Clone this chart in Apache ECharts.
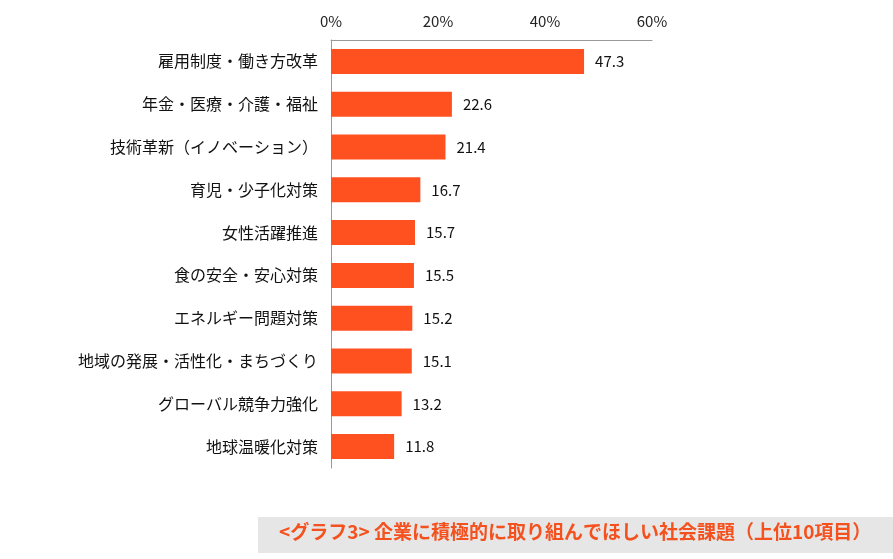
<!DOCTYPE html>
<html>
<head>
<meta charset="utf-8">
<script src="https://cdn.jsdelivr.net/npm/echarts@6/dist/echarts.min.js"></script>
<style>
  html, body { margin: 0; padding: 0; background: #fff; }
</style>
</head>
<body>
<div id="chart" style="width:893px;height:559px;"></div>
<script>
const categories = [
    '雇用制度・働き方改革',
    '年金・医療・介護・福祉',
    '技術革新（イノベーション）',
    '育児・少子化対策',
    '女性活躍推進',
    '食の安全・安心対策',
    'エネルギー問題対策',
    '地域の発展・活性化・まちづくり',
    'グローバル競争力強化',
    '地球温暖化対策'
];
const values = [47.3, 22.6, 21.4, 16.7, 15.7, 15.5, 15.2, 15.1, 13.2, 11.8];
const tickLabels = ['0%', '20%', '40%', '60%'];
const caption = '<グラフ3> 企業に積極的に取り組んでほしい社会課題（上位10項目）';

const chart = echarts.init(document.getElementById('chart'));

const option = {
    backgroundColor: '#fff',
    animation: false,
    textStyle: {
        fontFamily: '"Noto Sans CJK JP", sans-serif'
    },
    grid: {
        left: 331,
        right: 241,
        top: 40,
        height: 428
    },
    xAxis: {
        type: 'value',
        position: 'top',
        min: 0,
        max: 60,
        interval: 20,
        axisLine: { show: true, lineStyle: { color: '#999', width: 1 } },
        axisTick: { show: false },
        splitLine: { show: false },
        axisLabel: {
            color: '#222',
            fontSize: 15,
            margin: 11,
            formatter: (v) => tickLabels[v / 20]
        }
    },
    yAxis: {
        type: 'category',
        inverse: true,
        data: categories,
        axisLine: { show: true, lineStyle: { color: '#999', width: 1 } },
        axisTick: { show: false },
        axisLabel: {
            color: '#111',
            fontSize: 16,
            margin: 13
        }
    },
    series: [{
        type: 'bar',
        data: values,
        barWidth: 25,
        itemStyle: { color: '#FF5020' },
        label: {
            show: true,
            position: 'right',
            distance: 11,
            color: '#111',
            fontSize: 15,
            formatter: (p) => p.value.toFixed(1)
        }
    }],
    graphic: [{
        type: 'rect',
        left: 258,
        top: 517,
        shape: { width: 635, height: 36 },
        style: { fill: '#E6E6E6' }
    }, {
        type: 'text',
        left: 279,
        top: 522,
        style: {
            text: caption,
            fill: '#F4511E',
            font: 'bold 19px "Noto Sans CJK JP", sans-serif'
        }
    }]
};

chart.setOption(option);
</script>
</body>
</html>
